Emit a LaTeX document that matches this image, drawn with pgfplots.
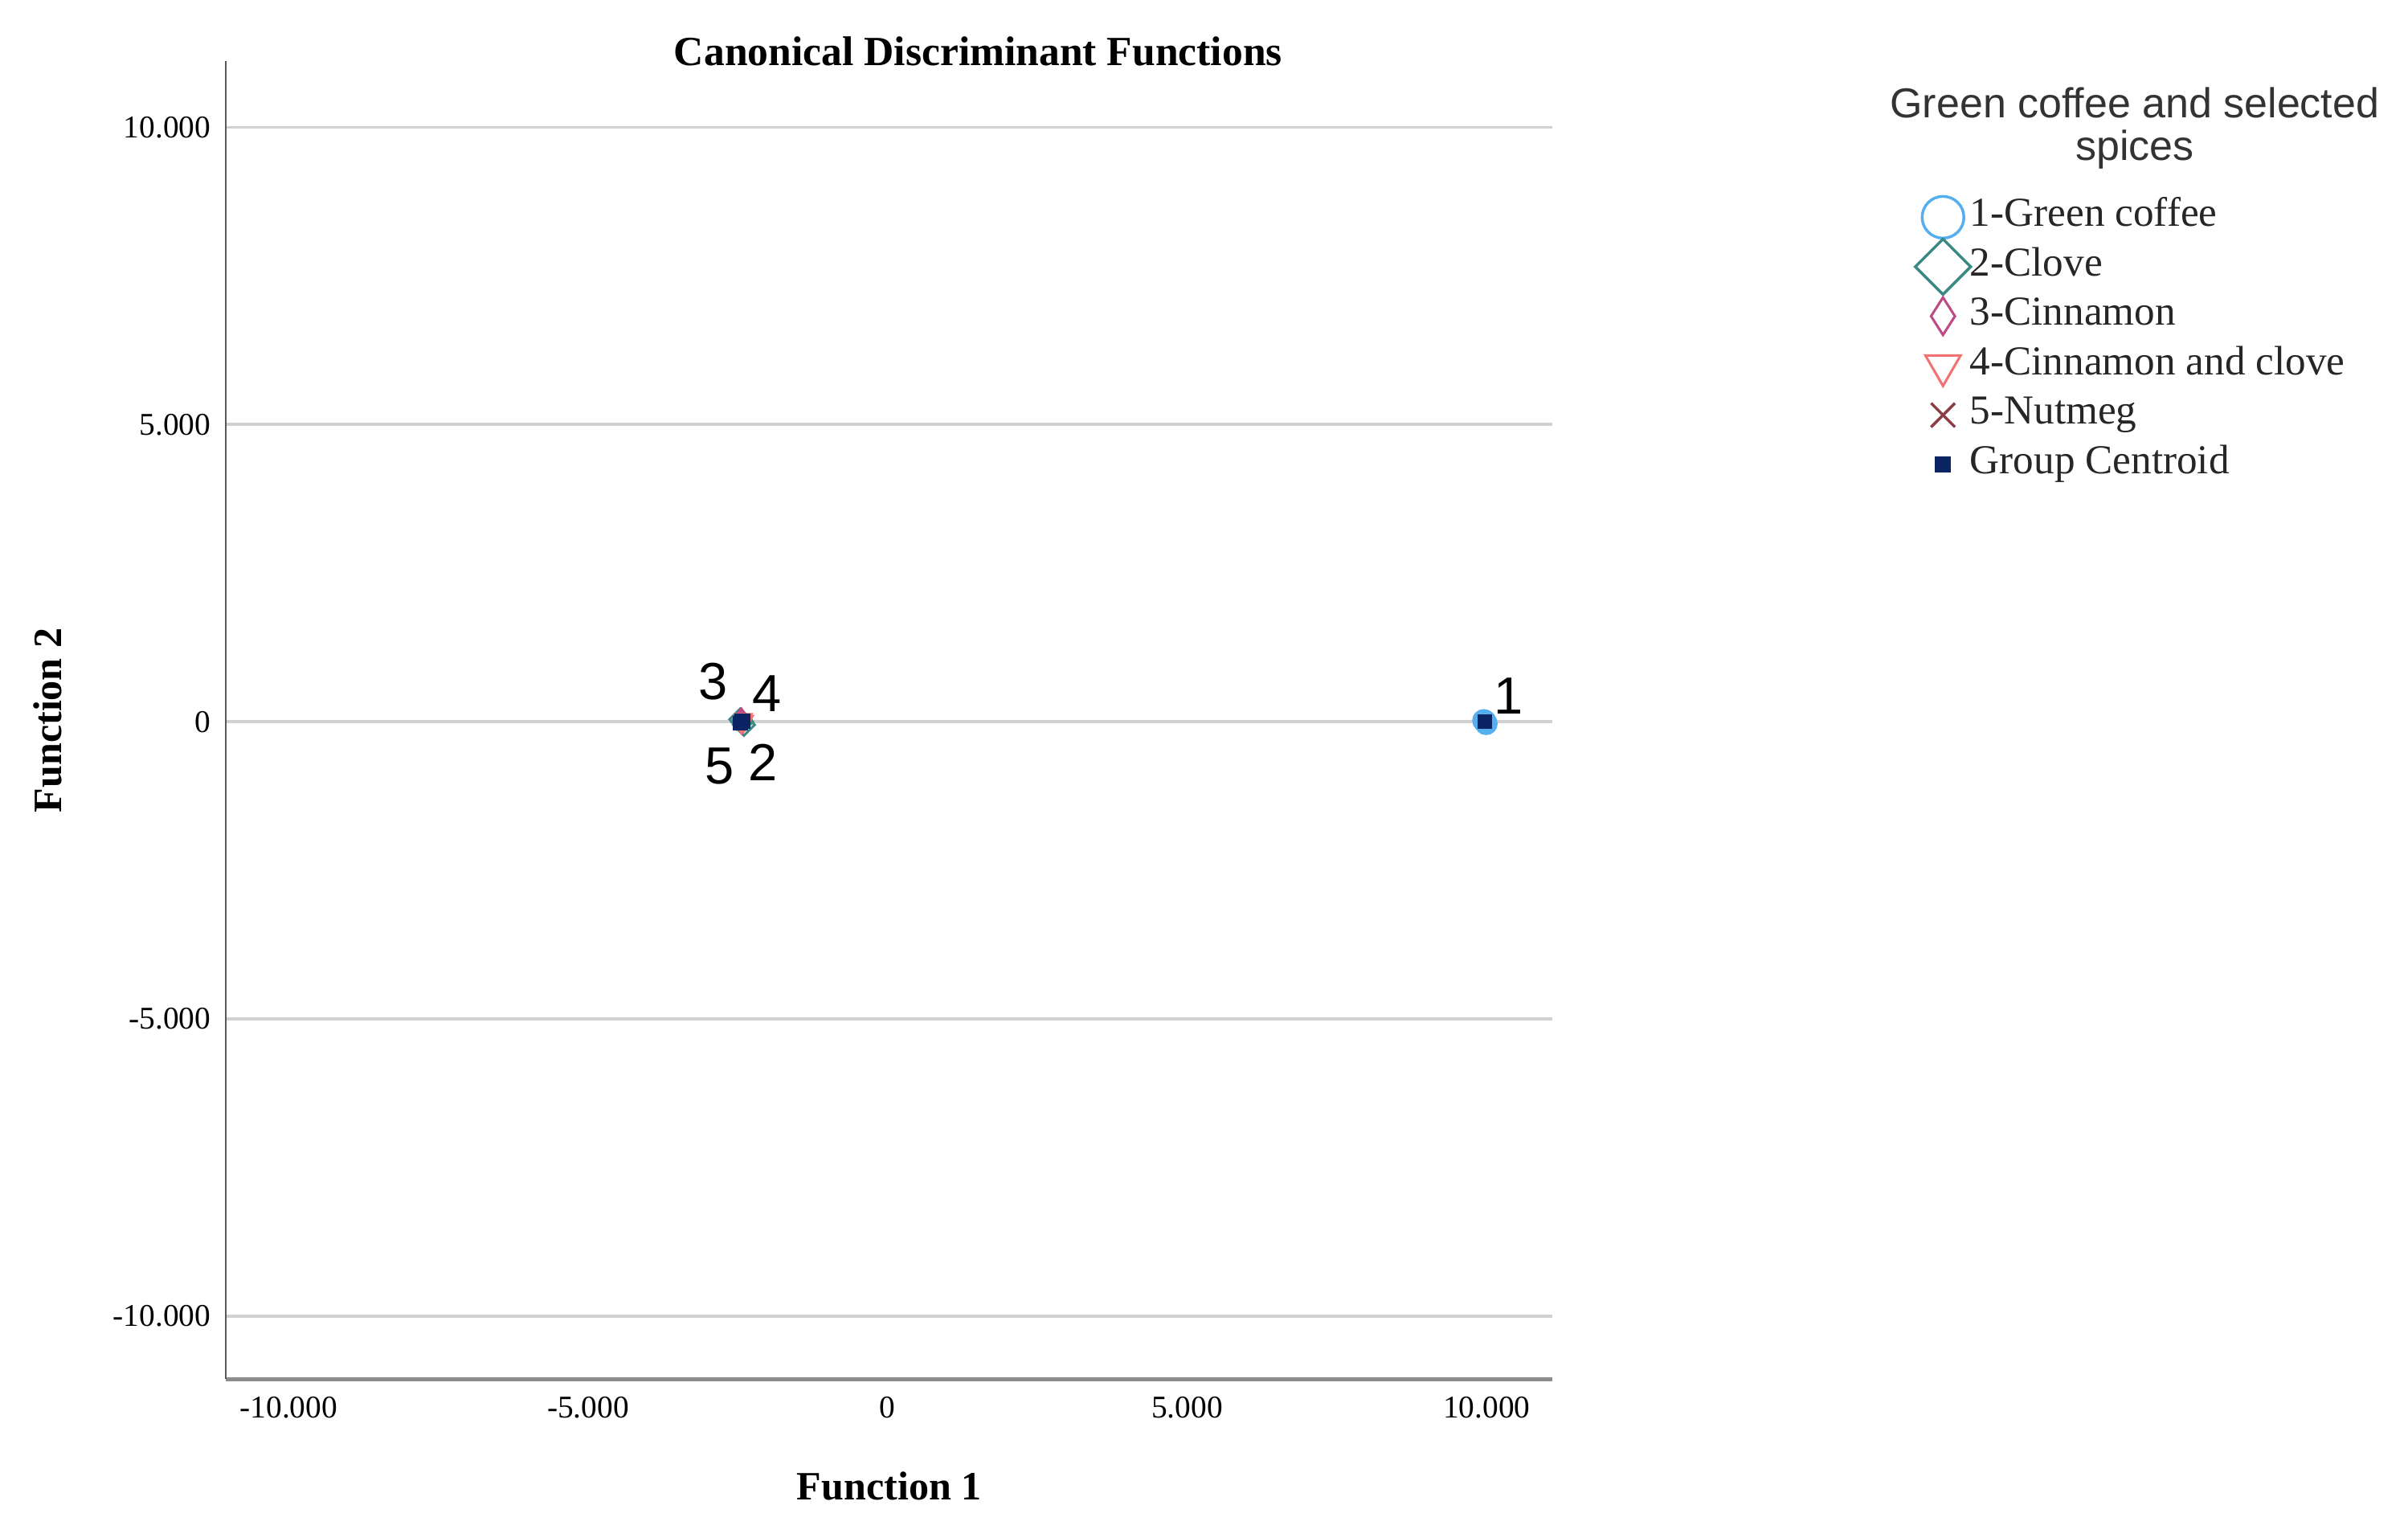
\documentclass[border=0pt]{standalone}
\usepackage{fontspec}
\setmainfont{Liberation Serif}
\newfontfamily\sansfont{Liberation Sans}
\usepackage{pgfplots}
\pgfplotsset{compat=1.18}
\definecolor{c1}{HTML}{55AEEE}
\definecolor{c2}{HTML}{3A8A84}
\definecolor{c3}{HTML}{C04A86}
\definecolor{c4}{HTML}{F27272}
\definecolor{c5}{HTML}{8B3F45}
\definecolor{c6}{HTML}{0B2463}
\begin{document}
\begin{tikzpicture}
\useasboundingbox (0,0) rectangle (784bp,500.5bp);
\begin{axis}[
  at={(73.5bp,51.5bp)}, anchor=south west, scale only axis,
  width=432bp, height=429bp,
  xmin=-11.05, xmax=11.10, ymin=-11.06, ymax=11.11,
  axis x line*=bottom, axis y line*=left,
  x axis line style={draw=black!45, line width=1.3bp, -},
  y axis line style={draw=black!65, line width=0.5bp, -},
  xtick={-10,-5,0,5,10}, xticklabels={-10.000,-5.000,0,5.000,10.000},
  ytick={-10,-5,0,5,10}, yticklabels={-10.000,-5.000,0,5.000,10.000},
  major tick length=0pt,
  ymajorgrids, major grid style={draw=black!18, line width=1bp},
  xticklabel style={font=\fontsize{10.3bp}{12bp}\selectfont, anchor=north, inner sep=0pt, yshift=-5.5bp},
  yticklabel style={font=\fontsize{10.3bp}{12bp}\selectfont, anchor=east, inner sep=0pt, xshift=-4.7bp},
  every axis title shift=0pt,
  title={Canonical Discriminant Functions},
  title style={at={(axis description cs:0.5671,0.9969)}, anchor=base, inner sep=0pt, yshift=0pt, font=\fontsize{13.5bp}{16bp}\selectfont\bfseries},
  xlabel={Function 1},
  xlabel style={at={(axis description cs:0.5,-0.0916)}, anchor=base, inner sep=0pt, font=\fontsize{13.1bp}{16bp}\selectfont\bfseries},
  ylabel={Function 2},
  ylabel style={at={(axis description cs:-0.1238,0.5)}, anchor=base, inner sep=0pt, font=\fontsize{13.1bp}{16bp}\selectfont\bfseries},
  clip=false,
  legend cell align=left,
  legend style={at={(axis description cs:1.278,0.9005)}, anchor=north west, draw=none, fill=none,
    inner sep=0pt, outer sep=0pt, row sep=0pt, column sep=0pt,
    nodes={inner sep=0pt, text height=11bp, text depth=5.1bp, text=black!85, font=\fontsize{13.4bp}{15bp}\selectfont}},
  legend image code/.code={%
    \pgfinterruptboundingbox
    \draw[#1] plot coordinates {(0bp,0bp)};
    \endpgfinterruptboundingbox
    \path[draw=none, fill=none] (-7bp,-4bp) rectangle (8.8bp,4bp);
  },
]
% group 1 cases
\addplot[forget plot, only marks, mark=o, mark size=3bp, color=c1, line width=1.5bp]
  coordinates {(9.95,0.02) (9.99,-0.03) (9.97,0.01)};
% group 2 cases
\addplot[forget plot, only marks, mark=diamond, mark size=3.5bp, mark options={xscale=1.333}, color=c2, line width=0.8bp]
  coordinates {(-2.40,-0.05) (-2.46,0.04) (-2.43,0.00)};
% group 3 cases
\addplot[forget plot, only marks, mark=diamond, mark size=3bp, mark options={xscale=0.85}, color=c3, line width=0.8bp]
  coordinates {(-2.47,0.03) (-2.44,0.06) (-2.42,-0.02)};
% group 4 cases
\addplot[forget plot, only marks, mark=triangle, mark size=3bp, mark options={rotate=180}, color=c4, line width=0.8bp]
  coordinates {(-2.41,0.05) (-2.39,0.02) (-2.44,-0.03)};
% group 5 cases
\addplot[forget plot, only marks, mark=x, mark size=2.5bp, color=c5, line width=0.8bp]
  coordinates {(-2.48,-0.02) (-2.45,-0.05) (-2.46,0.01)};
% centroids
\addplot[forget plot, only marks, mark=square*, mark size=2.2bp, color=c6]
  coordinates {(9.97,0) (-2.43,0) (-2.44,0.02) (-2.42,0.01) (-2.46,-0.02)};

\addlegendimage{only marks, mark=o, mark size=6.8bp, color=c1, line width=0.9bp}
\addlegendentry{1-Green coffee}
\addlegendimage{only marks, mark=diamond, mark size=9bp, mark options={xscale=1.333}, color=c2, line width=0.9bp}
\addlegendentry{2-Clove}
\addlegendimage{only marks, mark=diamond, mark size=6.1bp, mark options={xscale=0.85}, color=c3, line width=0.8bp}
\addlegendentry{3-Cinnamon}
\addlegendimage{only marks, mark=triangle, mark size=6.6bp, mark options={rotate=180}, color=c4, line width=0.8bp}
\addlegendentry{4-Cinnamon and clove}
\addlegendimage{only marks, mark=x, mark size=5.5bp, color=c5, line width=0.9bp}
\addlegendentry{5-Nutmeg}
\addlegendimage{only marks, mark=square*, mark size=2.4bp, color=c6}
\addlegendentry{Group Centroid}

\node[font=\fontsize{17bp}{19bp}\sansfont, inner sep=0pt] at (axis cs:10.37,0.44) {1};
\node[font=\fontsize{17bp}{19bp}\sansfont, inner sep=0pt] at (axis cs:-2.91,0.68) {3};
\node[font=\fontsize{17bp}{19bp}\sansfont, inner sep=0pt] at (axis cs:-2.01,0.48) {4};
\node[font=\fontsize{17bp}{19bp}\sansfont, inner sep=0pt] at (axis cs:-2.81,-0.74) {5};
\node[font=\fontsize{17bp}{19bp}\sansfont, inner sep=0pt] at (axis cs:-2.08,-0.69) {2};

\node[font=\fontsize{13.6bp}{15bp}\sansfont, anchor=base, inner sep=0pt, text=black!80] at (axis description cs:1.4387,0.9573) {Green coffee and selected};
\node[font=\fontsize{13.6bp}{15bp}\sansfont, anchor=base, inner sep=0pt, text=black!80] at (axis description cs:1.4387,0.9247) {spices};
\end{axis}
\end{tikzpicture}
\end{document}
